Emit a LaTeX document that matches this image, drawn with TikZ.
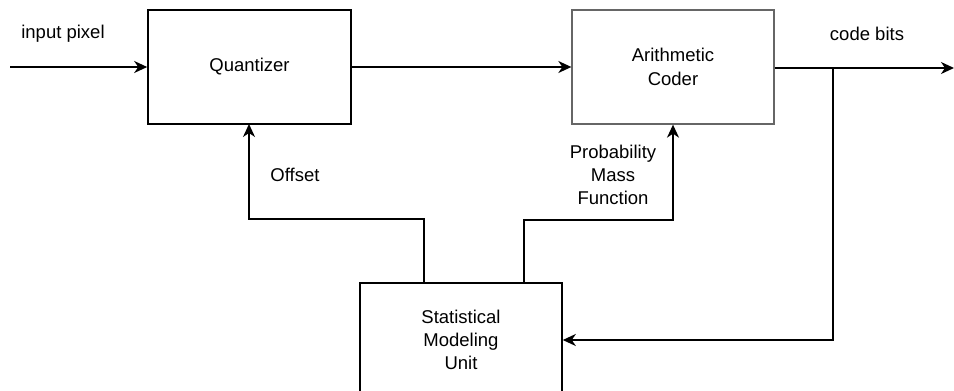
\documentclass[tikz,border=0pt]{standalone}
\usepackage{fontspec}
\setmainfont{Liberation Sans}
\usetikzlibrary{arrows.meta}
\begin{document}
\begin{tikzpicture}[x=1pt,y=-1pt,
  box/.style={draw=black,line width=1.6pt,inner sep=0pt},
  lbl/.style={font=\fontsize{18.5}{23.3}\selectfont,align=center,inner sep=0pt},
  conn/.style={line width=1.6pt,-{Stealth[length=13pt,width=12pt,inset=4pt]}},
  wire/.style={line width=1.6pt}]
\useasboundingbox (0,0) rectangle (954,391);
\clip (0,0) rectangle (954,391);
\fill[white] (0,0) rectangle (954,391);
\node[box,minimum width=203pt,minimum height=114pt] (q) at (249.5,67) {};
\node[lbl] at (q.center) {Quantizer};
\node[box,draw=black!60,line width=1.3pt,minimum width=202pt,minimum height=114pt] (ac) at (673,67) {};
\node[lbl] at (ac.center) {Arithmetic\\Coder};
\node[box,minimum width=202pt,minimum height=114pt] (smu) at (461,340) {};
\node[lbl] at (461,340) {Statistical\\Modeling\\Unit};
\coordinate (in) at (10,67);
\coordinate (out) at (954,68);
\coordinate (br) at (833,68);
\draw[conn] (in) -- (q.west);
\draw[conn] (q.east) -- (ac.west);
\draw[conn] (ac.east |- br) -- (out);
\draw[conn] (br) -- (833,340) -- (smu.east);
\draw[conn] (smu.north -| 424,0) -- (424,219) -- (249,219) -- (249,124);
\draw[conn] (smu.north -| 524,0) -- (524,220) -- (673,220) -- (ac.south);
\node[lbl] (t1) at (63,34) {input pixel};
\node[lbl] (t2) at (867,34) {code bits};
\node[lbl] (t3) at (295,175) {Offset};
\node[lbl] (t4) at (613,175) {Probability\\Mass\\Function};
\end{tikzpicture}
\end{document}
